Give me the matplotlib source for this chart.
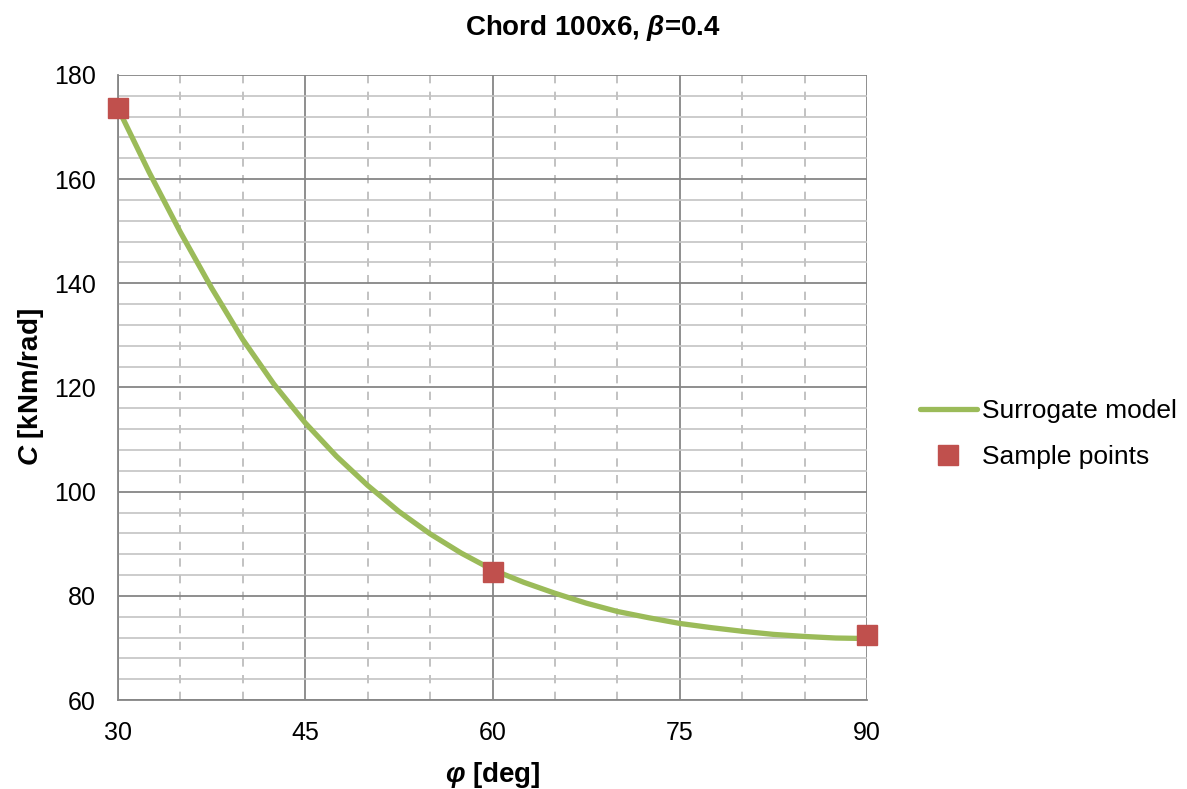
import matplotlib
matplotlib.use("Agg")
import matplotlib.pyplot as plt
from matplotlib.ticker import MultipleLocator

plt.rcParams['font.family'] = ['Liberation Sans', 'DejaVu Sans']
plt.rcParams['mathtext.fontset'] = 'custom'
plt.rcParams['mathtext.rm'] = 'Liberation Sans:bold'
plt.rcParams['mathtext.it'] = 'Liberation Sans:bold:italic'
plt.rcParams['mathtext.bf'] = 'Liberation Sans:bold'

# surrogate model curve
phi_model = [30, 32.5, 35, 37.5, 40, 42.5, 45, 47.5, 50, 52.5, 55, 57.5, 60,
             62.5, 65, 67.5, 70, 72.5, 75, 77.5, 80, 82.5, 85, 87.5, 90]
c_model = [173.6, 161.3, 149.8, 139.1, 129.2, 120.6, 113.2, 106.8, 101.2, 96.2,
           91.9, 88.2, 85.0, 82.6, 80.5, 78.6, 77.0, 75.8, 74.7, 73.9, 73.2,
           72.6, 72.2, 71.9, 71.8]

# sample points
phi_samples = [30, 60, 90]
c_samples = [173.6, 84.6, 72.4]

green = '#9BBB59'
red = '#C0504D'

fig = plt.figure(figsize=(11.87, 7.89), dpi=100)
ax = fig.add_axes([118 / 1187, 1 - 700 / 789, (867 - 118) / 1187, (700 - 75) / 789])

ax.plot(phi_model, c_model, color=green, lw=3.8, solid_capstyle='round',
        label='Surrogate model', zorder=3)
ax.plot(phi_samples, c_samples, linestyle='none', marker='s', markersize=14,
        color=red, markeredgecolor=red, label='Sample points', zorder=4, clip_on=False)

ax.set_xlim(30, 90)
ax.set_ylim(60, 180)
ax.xaxis.set_major_locator(MultipleLocator(15))
ax.xaxis.set_minor_locator(MultipleLocator(5))
ax.yaxis.set_major_locator(MultipleLocator(20))
ax.yaxis.set_minor_locator(MultipleLocator(4))

ax.grid(which='minor', axis='x', color='#b8b8b8', lw=1.2, linestyle=(0, (5, 5)))
ax.grid(which='minor', axis='y', color='#c4c4c4', lw=1.2)
ax.grid(which='major', color='#868686', lw=1.3)
ax.set_axisbelow(True)

for side in ['top', 'right']:
    ax.spines[side].set_visible(False)
for side in ['left', 'bottom']:
    ax.spines[side].set_color('#868686')
    ax.spines[side].set_linewidth(1.3)

ax.tick_params(which='both', length=0, labelsize=18, colors='black')
ax.tick_params(axis='x', pad=15)
ax.tick_params(axis='y', pad=16)

fig.text(593 / 1187, 1 - 28 / 789, r'Chord 100x6, $\beta$=0.4', fontsize=20,
         fontweight='bold', ha='center', va='center')
ax.set_xlabel(r'$\varphi$ [deg]', fontsize=20, fontweight='bold', labelpad=11)
ax.set_ylabel(r'$C$ [kNm/rad]', fontsize=20, fontweight='bold', labelpad=6)

ax.legend(loc='center left', bbox_to_anchor=(920 / 1187, 1 - 434 / 789),
          bbox_transform=fig.transFigure, frameon=False, borderpad=0,
          borderaxespad=0, fontsize=19, handlelength=2.15, handletextpad=0.2,
          labelspacing=0.85)

fig.savefig('out.png', dpi=100)
